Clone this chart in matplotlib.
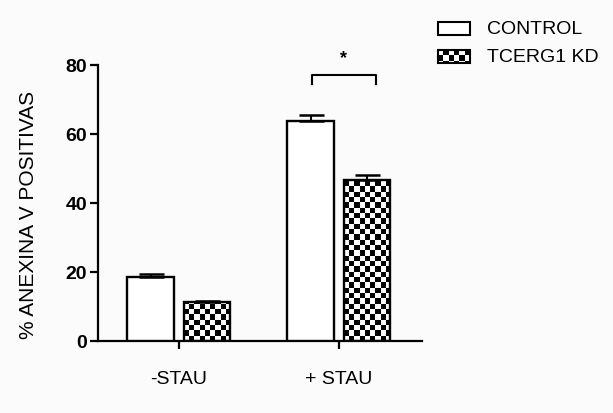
import numpy as np
import matplotlib
matplotlib.use("Agg")
import matplotlib.pyplot as plt
from matplotlib.patches import Rectangle

plt.rcParams['font.family'] = ['Liberation Sans', 'DejaVu Sans']

# Data
groups = ['-STAU', '+ STAU']
series = ['CONTROL', 'TCERG1 KD']
control = [18.4, 63.8]
control_err = [0.8, 1.7]
kd = [11.2, 46.7]
kd_err = [0.3, 1.3]
yticks = [0, 20, 40, 60, 80]

W, H = 613, 414
CELL = 5.3  # checker cell size, px


def checker_fill(ax, bars, cell_px, zorder):
    # fill every bar with a black/white checkerboard clipped to the bar
    fig = ax.figure
    fig.canvas.draw()
    p0 = ax.transData.transform((0, 0))
    p1 = ax.transData.transform((1, 1))
    sx, sy = abs(p1[0] - p0[0]), abs(p1[1] - p0[1])
    for b in bars:
        x, y, w, h = b.get_x(), b.get_y(), b.get_width(), b.get_height()
        ncol = max(1, int(round(w * sx / cell_px)))
        nrow = int(np.ceil(h * sy / cell_px)) + 1
        grid = (np.indices((nrow, ncol)).sum(axis=0) % 2).astype(float)
        top = y + nrow * cell_px / sy
        im = ax.imshow(grid, cmap='gray_r', vmin=0, vmax=1, origin='lower',
                       extent=(x, x + w, y, top), aspect='auto',
                       interpolation='nearest', zorder=zorder)
        im.set_clip_path(b)


fig = plt.figure(figsize=(W / 100, H / 100), dpi=100, facecolor='#fbfbfb')
ax = fig.add_axes([98 / W, 1 - 341.7 / H, 324 / W, 276 / H])
ax.set_facecolor('#fbfbfb')

xpos = np.arange(len(groups))
off, bw = 0.177, 0.29

ax.bar(xpos - off, control, bw, color='white', edgecolor='black', linewidth=1.7, zorder=3)
kd_fill = ax.bar(xpos + off, kd, bw, color='white', linewidth=0, zorder=2)
ax.bar(xpos + off, kd, bw, fill=False, edgecolor='black', linewidth=1.7, zorder=3)

ax.errorbar(xpos - off, control, yerr=[np.zeros(2), control_err], fmt='none',
            ecolor='black', elinewidth=1.5, capsize=9, capthick=1.8, zorder=4)
ax.errorbar(xpos + off, kd, yerr=[np.zeros(2), kd_err], fmt='none',
            ecolor='black', elinewidth=1.5, capsize=9, capthick=1.8, zorder=4)

ax.set_xlim(-0.506, 1.52)
ax.set_ylim(0, 80)

checker_fill(ax, kd_fill, CELL, 2.5)
ax.set_xlim(-0.506, 1.52)
ax.set_ylim(0, 80)

# significance bracket
ax.plot([0.835, 0.835, 1.23, 1.23], [74.4, 77, 77, 74.4], color='black', lw=1.5,
        clip_on=False, zorder=4)
ax.text(1.03, 82, '*', ha='center', va='center', fontsize=13, fontweight='bold',
        clip_on=False)

for s in ['top', 'right']:
    ax.spines[s].set_visible(False)
for s in ['left', 'bottom']:
    ax.spines[s].set_linewidth(1.6)

ax.set_yticks(yticks)
ax.set_yticklabels([str(v) for v in yticks], fontsize=14, fontweight='bold')
ax.set_xticks(xpos)
ax.set_xticklabels(groups, fontsize=14)
ax.tick_params(axis='y', length=6, width=1.6, pad=2)
ax.tick_params(axis='x', length=6, width=1.6, pad=15)

ax.set_ylabel('% ANEXINA V POSITIVAS', fontsize=15)
ax.yaxis.set_label_coords(-0.185, 0.459)

# legend drawn in pixel coordinates
lax = fig.add_axes([0, 0, 1, 1])
lax.set_xlim(0, W)
lax.set_ylim(H, 0)
lax.axis('off')
r1 = Rectangle((438, 23), 32, 13, facecolor='white', edgecolor='black', lw=1.5, zorder=3)
lax.add_patch(r1)
r2_fill = Rectangle((438, 51), 32, 13, facecolor='white', edgecolor='none', zorder=2)
lax.add_patch(r2_fill)
checker_fill(lax, [r2_fill], CELL, 2.5)
lax.set_xlim(0, W)
lax.set_ylim(H, 0)
lax.add_patch(Rectangle((438, 51), 32, 13, fill=False, edgecolor='black', lw=1.5, zorder=3))
lax.text(487, 30, series[0], fontsize=14, va='center', ha='left')
lax.text(487, 58, series[1], fontsize=14, va='center', ha='left')

fig.savefig('out.png', dpi=100, facecolor=fig.get_facecolor())
